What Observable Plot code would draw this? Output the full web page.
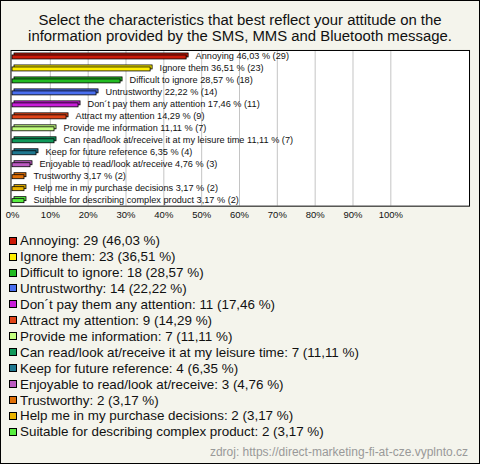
<!DOCTYPE html>
<html><head><meta charset="utf-8">
<script src="https://cdn.jsdelivr.net/npm/d3@7"></script>
<script src="https://cdn.jsdelivr.net/npm/@observablehq/plot@0.6"></script>
<style>
html,body{margin:0;padding:0;background:#fff;}
#root{position:relative;width:480px;height:464px;box-sizing:border-box;border:1px solid #000;background:#f4f4ec;font-family:"Liberation Sans",Arial,sans-serif;overflow:hidden;}
#title{position:absolute;left:0;top:11px;width:478px;text-align:center;font-size:14.9px;line-height:16px;color:#111;}
#chart{position:absolute;left:-1px;top:39px;}
#legend{position:absolute;left:8px;top:231.7px;font-size:13.4px;color:#111;}
.row{display:flex;align-items:center;height:15.94px;white-space:nowrap;}
.sw{width:6px;height:6px;border:1px solid #000;margin-right:3px;flex:none;}
#source{position:absolute;right:11px;top:444px;font-size:12px;color:#999;}
</style>
</head><body>
<div id="root">
  <div id="title"></div>
  <div id="chart"></div>
  <div id="legend"></div>
  <div id="source"></div>
</div>
<script>
const titleLines = [
  "Select the characteristics that best reflect your attitude on the",
  "information provided by the SMS, MMS and Bluetooth message."
];
const labels = [
  "Annoying",
  "Ignore them",
  "Difficult to ignore",
  "Untrustworthy",
  "Don´t pay them any attention",
  "Attract my attention",
  "Provide me information",
  "Can read/look at/receive it at my leisure time",
  "Keep for future reference",
  "Enjoyable to read/look at/receive",
  "Trustworthy",
  "Help me in my purchase decisions",
  "Suitable for describing complex product"
];
const counts = [29, 23, 18, 14, 11, 9, 7, 7, 4, 3, 2, 2, 2];
const pcts = [46.03, 36.51, 28.57, 22.22, 17.46, 14.29, 11.11, 11.11, 6.35, 4.76, 3.17, 3.17, 3.17];
const colors = [
  "#cc1a08", "#ffee00", "#22bb22", "#4a6ff0", "#c81ed8", "#e04418", "#c4ff80",
  "#10985a", "#1e7890", "#bb5ac0", "#e07008", "#eab400", "#58ee40"
];
const xTicks = [0, 10, 20, 30, 40, 50, 60, 70, 80, 90, 100];
const sourceText = "zdroj: https://direct-marketing-fi-at-cze.vyplnto.cz";

const fmt = v => v.toFixed(2).replace(".", ",");
const data = labels.map((l, i) => ({label: l, count: counts[i], pct: pcts[i]}));

document.getElementById("title").innerHTML = titleLines.join("<br>");
document.getElementById("source").textContent = sourceText;

const chart = Plot.plot({
  width: 480, height: 185,
  marginTop: 10, marginBottom: 19, marginLeft: 10.5, marginRight: 10,
  style: {background: "transparent", fontFamily: "'Liberation Sans', Arial, sans-serif", fontSize: "9.5px", color: "#111"},
  x: {domain: [-0.4, 120.8], ticks: xTicks, tickFormat: d => d + "%", tickSize: 0, tickPadding: 5, label: null},
  y: {domain: labels, range: [10, 166], paddingInner: 0.63, paddingOuter: 0.315, axis: null},
  color: {domain: labels, range: colors},
  marks: [
    Plot.frame({fill: "white"}),
    Plot.ruleX(xTicks.filter(d => d > 0), {stroke: "#c4c4c4", strokeOpacity: 1}),
    Plot.frame({stroke: "#000"}),
    Plot.barX(data, {x1: 0, x2: "pct", y: "label", fill: "label", stroke: "#000", strokeWidth: 0.8, dx: 2, dy: -1}),
    Plot.barX(data, {x1: 0, x2: "pct", y: "label", fill: "label", stroke: "#000", strokeWidth: 0.8, dy: 1}),
    Plot.text(data, {x: "pct", y: "label", text: d => `${d.label} ${fmt(d.pct)} % (${d.count})`, dx: 9, textAnchor: "start", fontSize: 9.2, fill: "#111"})
  ]
});
document.getElementById("chart").appendChild(chart);

const legend = document.getElementById("legend");
data.forEach((d, i) => {
  const row = document.createElement("div");
  row.className = "row";
  const sw = document.createElement("span");
  sw.className = "sw";
  sw.style.background = colors[i];
  const t = document.createElement("span");
  t.textContent = `${d.label}: ${d.count} (${fmt(d.pct)} %)`;
  row.appendChild(sw);
  row.appendChild(t);
  legend.appendChild(row);
});
</script>
</body></html>
